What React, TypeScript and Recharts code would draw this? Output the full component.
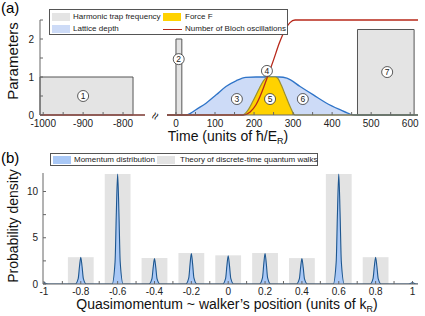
import * as React from 'react';
import { ComposedChart, Area, Line, XAxis, YAxis, ReferenceArea, ReferenceDot } from 'recharts';

const FONT = "'Liberation Sans', Arial, Helvetica, sans-serif";

// (a) pulse sequence
const trapPulses = [
  { start: -1008, end: -775, height: 1 },
  { start: 0, end: 15, height: 2 },
  { start: 465, end: 610, height: 2.25 },
];
const latticeDepth = [
  [-23, 0], [26, 0], [38, 0.05], [51, 0.14], [77, 0.31], [103, 0.53], [128, 0.75], [154, 0.9],
  [179, 0.99], [205, 1], [265, 1], [284, 0.97], [318, 0.75], [352, 0.53], [386, 0.31],
  [420, 0.14], [440, 0.05], [455, 0], [620, 0],
];
const forceF = [
  [-23, 0], [171, 0], [184, 0.12], [197, 0.36], [214, 0.71], [224, 0.9], [235, 1], [255, 1],
  [262, 0.95], [270, 0.78], [280, 0.53], [292, 0.23], [305, 0], [620, 0],
];
const blochLeft = [[-1008, 0], [-745, 0]];
const blochRight = [
  [-23, 0], [172, 0], [190, 0.08], [205, 0.27], [215, 0.48], [224, 0.71], [235, 1.02],
  [250, 1.45], [265, 1.9], [280, 2.25], [292, 2.43], [305, 2.5], [620, 2.5],
];
const stepMarkers = [
  { t: -900, y: 0.5, n: '1' },
  { t: 7, y: 1.47, n: '2' },
  { t: 156, y: 0.42, n: '3' },
  { t: 233, y: 1.16, n: '4' },
  { t: 241, y: 0.42, n: '5' },
  { t: 325, y: 0.42, n: '6' },
  { t: 541, y: 1.13, n: '7' },
];
const paramTicks = [0, 0.5, 1, 1.5, 2, 2.5];
const timeTicksLeft = [-1000, -950, -900, -850, -800];
const timeTicksRight = [0, 50, 100, 150, 200, 250, 300, 350, 400, 450, 500, 550, 600];

// (b) momentum distribution vs. quantum walk theory
const walkPositions = [-0.8, -0.6, -0.4, -0.2, 0, 0.2, 0.4, 0.6, 0.8];
const theoryHeights = [2.9, 11.9, 2.8, 3.35, 3.1, 3.35, 2.8, 11.9, 2.9];
const momentumProfile = [
  [-1.0, 0.15], [-0.993, 0.1], [-0.986, 0.03], [-0.97, 0],
  [-0.83, 0], [-0.814, 0.58], [-0.807, 1.89], [-0.8, 2.9], [-0.793, 1.89], [-0.786, 0.58], [-0.77, 0],
  [-0.63, 0], [-0.614, 2.38], [-0.607, 7.74], [-0.6, 11.9], [-0.593, 7.74], [-0.586, 2.38], [-0.57, 0],
  [-0.43, 0], [-0.414, 0.55], [-0.407, 1.79], [-0.4, 2.75], [-0.393, 1.79], [-0.386, 0.55], [-0.37, 0],
  [-0.23, 0], [-0.214, 0.66], [-0.207, 2.15], [-0.2, 3.3], [-0.193, 2.15], [-0.186, 0.66], [-0.17, 0],
  [-0.03, 0], [-0.014, 0.61], [-0.007, 1.98], [0, 3.05], [0.007, 1.98], [0.014, 0.61], [0.03, 0],
  [0.17, 0], [0.186, 0.66], [0.193, 2.15], [0.2, 3.3], [0.207, 2.15], [0.214, 0.66], [0.23, 0],
  [0.37, 0], [0.386, 0.55], [0.393, 1.79], [0.4, 2.75], [0.407, 1.79], [0.414, 0.55], [0.43, 0],
  [0.57, 0], [0.586, 2.38], [0.593, 7.74], [0.6, 11.9], [0.607, 7.74], [0.614, 2.38], [0.63, 0],
  [0.77, 0], [0.786, 0.58], [0.793, 1.89], [0.8, 2.9], [0.807, 1.89], [0.814, 0.58], [0.83, 0],
  [0.97, 0], [0.986, 0.03], [0.993, 0.1], [1.0, 0.15], [1.007, 0.1], [1.014, 0.03], [1.03, 0],
];
const densityTicks = [0, 2.5, 5, 7.5, 10];
const qTicks = [-1, -0.9, -0.8, -0.7, -0.6, -0.5, -0.4, -0.3, -0.2, -0.1, 0, 0.1, 0.2, 0.3, 0.4, 0.5, 0.6, 0.7, 0.8, 0.9, 1];

const BAR_HALF_WIDTH = 0.07;

const toTV = (rows: number[][]) => rows.map(([t, v]) => ({ t, v }));
const tickStyle = { fontSize: 10, fill: '#222', fontFamily: FONT };
const axisGray = '#666';

const intLabel = (v: number) => (Number.isInteger(v) ? String(v) : '');
const hundredLabel = (v: number) => (v % 100 === 0 ? String(v) : '');
const qLabel = (v: number) => (Math.abs(Math.round(v * 10)) % 2 === 0 ? String(Number(v.toFixed(1))) : '');

function Marker({ t, y, n }: { t: number; y: number; n: string }) {
  return (
    <ReferenceDot
      x={t}
      y={y}
      r={5.5}
      fill="#fff"
      stroke="#333"
      strokeWidth={0.8}
      label={{ value: n, position: 'center', fontSize: 8.5, fill: '#222', fontFamily: FONT }}
    />
  );
}

function LeftTimeChart() {
  const pulses = trapPulses.filter((p) => p.end < -700);
  return (
    <ComposedChart width={425} height={150} margin={{ top: 20, right: 280, bottom: 0, left: 0 }}>
      <XAxis
        dataKey="t"
        type="number"
        domain={[-1008, -745]}
        allowDataOverflow
        ticks={timeTicksLeft}
        tickFormatter={hundredLabel}
        height={35}
        tick={tickStyle}
        tickSize={-3}
        tickMargin={8}
        stroke={axisGray}
      />
      <YAxis
        type="number"
        domain={[0, 2.5]}
        ticks={paramTicks}
        tickFormatter={intLabel}
        width={40}
        tick={tickStyle}
        tickSize={-3}
        tickMargin={9}
        stroke={axisGray}
      />
      {pulses.map((p, i) => (
        <ReferenceArea key={i} x1={p.start} x2={p.end} y1={0} y2={p.height} fill="#e4e4e4" fillOpacity={1} stroke="#555" strokeWidth={1} />
      ))}
      <Line data={toTV(blochLeft)} dataKey="v" stroke="#c0392b" strokeWidth={1.4} dot={false} isAnimationActive={false} />
      {stepMarkers.filter((m) => m.t < -700).map((m) => <Marker key={m.n} {...m} />)}
    </ComposedChart>
  );
}

function RightTimeChart() {
  const pulses = trapPulses.filter((p) => p.start > -100);
  return (
    <ComposedChart width={425} height={150} margin={{ top: 20, right: 7, bottom: 0, left: 167 }}>
      <XAxis
        dataKey="t"
        type="number"
        domain={[-23, 620]}
        allowDataOverflow
        ticks={timeTicksRight}
        tickFormatter={hundredLabel}
        height={35}
        tick={tickStyle}
        tickSize={-3}
        tickMargin={8}
        stroke={axisGray}
      />
      <YAxis type="number" domain={[0, 2.5]} hide />
      {pulses.map((p, i) => (
        <ReferenceArea key={i} x1={p.start} x2={p.end} y1={0} y2={p.height} fill="#e4e4e4" fillOpacity={1} stroke="#555" strokeWidth={1} />
      ))}
      <Area data={toTV(latticeDepth)} dataKey="v" type="monotone" fill="#cddbf7" fillOpacity={1} stroke="#2f74c8" strokeWidth={1.3} isAnimationActive={false} />
      <Area data={toTV(forceF)} dataKey="v" type="monotone" fill="#ffd200" fillOpacity={1} stroke="#9a8f2e" strokeWidth={1.2} isAnimationActive={false} />
      <Line data={toTV(blochRight)} dataKey="v" type="monotone" stroke="#b8281a" strokeWidth={1.3} dot={false} isAnimationActive={false} />
      {stepMarkers.filter((m) => m.t > -100).map((m) => <Marker key={m.n} {...m} />)}
    </ComposedChart>
  );
}

function MomentumChart() {
  const data = momentumProfile.map(([q, p]) => ({ q, p }));
  return (
    <ComposedChart width={425} height={316} margin={{ top: 173, right: 7, bottom: 0, left: 0 }}>
      <XAxis
        dataKey="q"
        type="number"
        domain={[-1.005, 1.03]}
        allowDataOverflow
        ticks={qTicks}
        tickFormatter={qLabel}
        interval={0}
        height={32}
        tick={tickStyle}
        tickSize={-3}
        tickMargin={7}
        stroke={axisGray}
      />
      <YAxis
        type="number"
        domain={[0, 12]}
        allowDataOverflow
        ticks={densityTicks}
        tickFormatter={intLabel}
        width={43}
        tick={tickStyle}
        tickSize={-3}
        tickMargin={8}
        stroke={axisGray}
      />
      {walkPositions.map((q, i) => (
        <ReferenceArea key={q} x1={q - BAR_HALF_WIDTH} x2={q + BAR_HALF_WIDTH} y1={0} y2={theoryHeights[i]} fill="#e3e3e3" fillOpacity={1} stroke="none" />
      ))}
      <Area data={data} dataKey="p" type="monotone" fill="#a9c8f6" fillOpacity={1} stroke="#1d568f" strokeWidth={1.1} isAnimationActive={false} />
    </ComposedChart>
  );
}

const abs = (left: number, top: number): React.CSSProperties => ({ position: 'absolute', left, top });
const centered = (left: number, top: number, size: number, rotate = 0): React.CSSProperties => ({
  position: 'absolute',
  left,
  top,
  fontSize: size,
  whiteSpace: 'nowrap',
  lineHeight: 1,
  transform: `translate(-50%, -50%) rotate(${rotate}deg)`,
  color: '#111',
});

function Swatch({ left, top, color }: { left: number; top: number; color: string }) {
  return <div style={{ ...abs(left, top), width: 18, height: 8, background: color }} />;
}

function LegendText({ left, top, children }: { left: number; top: number; children: React.ReactNode }) {
  return <div style={{ ...abs(left, top), fontSize: 8, lineHeight: '10px', whiteSpace: 'nowrap', color: '#222' }}>{children}</div>;
}

export default function App() {
  return (
    <div style={{ position: 'absolute', left: 0, top: 0, width: 425, height: 316, background: '#fff', fontFamily: FONT, overflow: 'hidden' }}>
      <div style={abs(0, 0)}><LeftTimeChart /></div>
      <div style={abs(0, 0)}><RightTimeChart /></div>
      <div style={abs(0, 0)}><MomentumChart /></div>

      <div style={{ ...abs(1, 0), fontSize: 15, lineHeight: '16px' }}>(a)</div>
      <div style={{ ...abs(1, 150), fontSize: 15, lineHeight: '16px' }}>(b)</div>

      <div style={centered(12, 61, 15, -90)}>Parameters</div>
      <div style={centered(228, 136, 14)}>
        Time (units of ħ/E<span style={{ fontSize: 9, position: 'relative', top: 3 }}>R</span>)
      </div>
      <div style={centered(155, 116, 13, -62)}>≈</div>

      <div style={centered(13, 226, 14, -90)}>Probability density</div>
      <div style={centered(227, 304, 14)}>
        Quasimomentum ~ walker’s position (units of k<span style={{ fontSize: 9, position: 'relative', top: 3 }}>R</span>)
      </div>

      <div style={{ ...abs(49, 9), width: 239, height: 26, border: '1px solid #555', background: '#fff', boxSizing: 'border-box' }}>
        <Swatch left={2} top={3} color="#e4e4e4" />
        <LegendText left={23} top={2}>Harmonic trap frequency</LegendText>
        <Swatch left={113} top={3} color="#ffd200" />
        <LegendText left={135} top={2}>Force F</LegendText>
        <Swatch left={2} top={15} color="#cddbf7" />
        <LegendText left={23} top={14}>Lattice depth</LegendText>
        <div style={{ ...abs(113, 19), width: 19, height: 1.4, background: '#b8281a' }} />
        <LegendText left={135} top={14}>Number of Bloch oscillations</LegendText>
      </div>

      <div style={{ ...abs(50, 153), width: 268, height: 13, border: '1px solid #555', background: '#fff', boxSizing: 'border-box' }}>
        <Swatch left={2} top={1.5} color="#a9c8f6" />
        <LegendText left={23} top={0.5}>Momentum distribution</LegendText>
        <Swatch left={106} top={1.5} color="#e3e3e3" />
        <LegendText left={129} top={0.5}>Theory of discrete-time quantum walks</LegendText>
      </div>
    </div>
  );
}
